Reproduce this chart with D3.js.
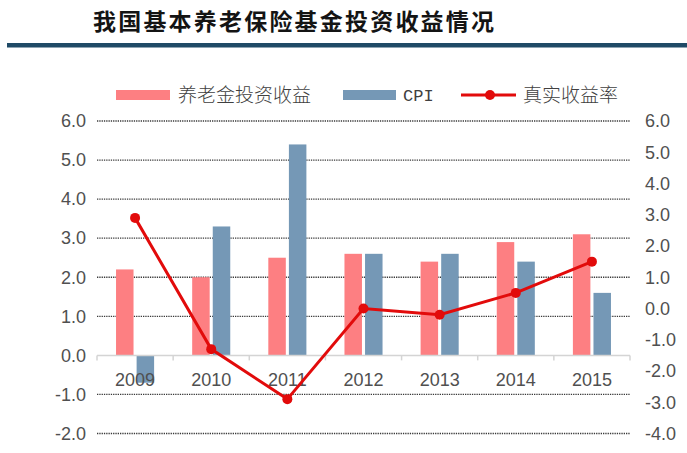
<!DOCTYPE html>
<html>
<head>
<meta charset="utf-8">
<script src="https://cdn.jsdelivr.net/npm/d3@7"></script>
<style>
  html, body { margin: 0; padding: 0; background: #fff; }
  svg { display: block; }
</style>
</head>
<body>
<svg id="chart"></svg>
<script>
const years = ["2009", "2010", "2011", "2012", "2013", "2014", "2015"];
const fundReturn = [2.2, 2.0, 2.5, 2.6, 2.4, 2.9, 3.1];
const cpi = [-0.7, 3.3, 5.4, 2.6, 2.6, 2.4, 1.6];
const realReturn = [2.9, -1.3, -2.9, 0.0, -0.2, 0.5, 1.5];
const leftTicks = [-2, -1, 0, 1, 2, 3, 4, 5, 6];
const rightTicks = [-4, -3, -2, -1, 0, 1, 2, 3, 4, 5, 6];
const seriesNames = ["养老金投资收益", "CPI", "真实收益率"];

const width = 687, height = 453;
const pink = "#fd7f82", blue = "#7598b6", red = "#e20b0b";
const axisFont = "'Liberation Sans', Arial, sans-serif";
const svg = d3.select("#chart").attr("width", width).attr("height", height);

// title + rule
svg.append("text")
  .attr("x", 93).attr("y", 30)
  .style("font-family", "'Noto Sans CJK SC', sans-serif")
  .style("font-weight", "bold")
  .style("font-size", "23px")
  .style("letter-spacing", "2.2px")
  .style("fill", "#141414")
  .text("我国基本养老保险基金投资收益情况");

svg.append("rect")
  .attr("x", 7).attr("y", 43).attr("width", width - 7).attr("height", 4.5)
  .attr("fill", "#1f4a66");

const x0 = d3.scaleBand().domain(years).range([97, 630]);
const x1 = d3.scaleBand().domain(["fund", "cpi"])
  .range([x0.bandwidth() * 0.25, x0.bandwidth() * 0.75]).paddingInner(0.15);
const yL = d3.scaleLinear().domain([-2, 6]).range([433.5, 121]);
const yR = d3.scaleLinear().domain([-4, 6]).range([433.5, 121]);

// dotted gridlines
svg.append("g").selectAll("line")
  .data(leftTicks.filter(d => d !== 0))
  .enter().append("line")
  .attr("x1", 97).attr("x2", 630)
  .attr("y1", d => yL(d)).attr("y2", d => yL(d))
  .attr("stroke", "#3a3a3a")
  .attr("stroke-width", 1.3)
  .attr("stroke-dasharray", "1.3,1");

// bars
const g = svg.append("g");
years.forEach((yr, i) => {
  [["fund", fundReturn[i], pink], ["cpi", cpi[i], blue]].forEach(([k, v, c]) => {
    g.append("rect")
      .attr("x", x0(yr) + x1(k))
      .attr("width", x1.bandwidth())
      .attr("y", yL(Math.max(0, v)))
      .attr("height", Math.abs(yL(v) - yL(0)))
      .attr("fill", c);
  });
});

// zero axis line with category ticks
const xAxis = d3.axisBottom(x0).tickSize(0).tickPadding(18);
const ax = svg.append("g").attr("transform", `translate(0,${yL(0)})`).call(xAxis);
ax.select(".domain").remove();
ax.selectAll("text")
  .style("font-family", axisFont)
  .style("font-size", "18px")
  .style("fill", "#505050");
svg.append("line")
  .attr("x1", 97).attr("x2", 630)
  .attr("y1", yL(0)).attr("y2", yL(0))
  .attr("stroke", "#d4d4d4").attr("stroke-width", 1.5);
svg.append("g").selectAll("line")
  .data(years.concat(["end"]))
  .enter().append("line")
  .attr("x1", (d, i) => 97 + i * x0.step())
  .attr("x2", (d, i) => 97 + i * x0.step())
  .attr("y1", yL(0)).attr("y2", yL(0) + 5)
  .attr("stroke", "#d4d4d4").attr("stroke-width", 1.5);

// left / right axes
const fmt = d => d3.format(".1f")(d).replace("−", "-");
const yAxisL = d3.axisLeft(yL).tickValues(leftTicks).tickFormat(fmt).tickSize(0).tickPadding(0);
const gl = svg.append("g").attr("transform", "translate(86,0)").call(yAxisL);
const yAxisR = d3.axisRight(yR).tickValues(rightTicks).tickFormat(fmt).tickSize(0).tickPadding(0);
const gr = svg.append("g").attr("transform", "translate(645,0)").call(yAxisR);
[gl, gr].forEach(a => {
  a.select(".domain").remove();
  a.selectAll("text")
    .style("font-family", axisFont)
    .style("font-size", "18px")
    .style("fill", "#505050");
});

// real return line
const cx = yr => x0(yr) + x0.bandwidth() / 2;
const line = d3.line().x((d, i) => cx(years[i])).y(d => yR(d));
svg.append("path")
  .datum(realReturn)
  .attr("d", line)
  .attr("fill", "none")
  .attr("stroke", red)
  .attr("stroke-width", 3);
svg.append("g").selectAll("circle")
  .data(realReturn)
  .enter().append("circle")
  .attr("cx", (d, i) => cx(years[i]))
  .attr("cy", d => yR(d))
  .attr("r", 5)
  .attr("fill", red);

// legend
const legend = svg.append("g").attr("id", "legend");
const ly = 95;
const cjk = "'Noto Sans CJK SC', sans-serif";
legend.append("rect").attr("x", 116).attr("y", ly - 5).attr("width", 54).attr("height", 10).attr("fill", pink);
legend.append("text").attr("x", 178).attr("y", ly + 7).style("font-family", cjk).text(seriesNames[0]);
legend.append("rect").attr("x", 343).attr("y", ly - 5).attr("width", 53).attr("height", 10).attr("fill", blue);
legend.append("text").attr("x", 403).attr("y", ly + 6).style("font-family", "'Liberation Mono', monospace")
  .style("font-size", "17px").text(seriesNames[1]);
legend.append("line").attr("x1", 461).attr("x2", 516).attr("y1", ly).attr("y2", ly)
  .attr("stroke", red).attr("stroke-width", 3);
legend.append("circle").attr("cx", 490).attr("cy", ly).attr("r", 5).attr("fill", red);
legend.append("text").attr("x", 523).attr("y", ly + 7).style("font-family", cjk).text(seriesNames[2]);
legend.selectAll("text")
  .style("font-weight", 300)
  .style("fill", "#404040")
  .filter(function () { return !this.style.fontSize; })
  .style("font-size", "19px");
</script>
</body>
</html>
